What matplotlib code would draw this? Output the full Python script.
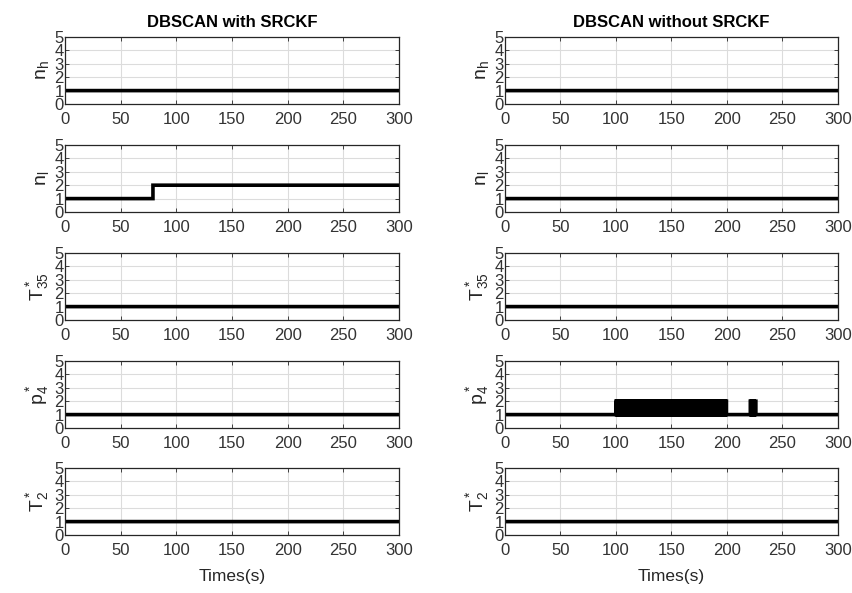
import numpy as np
import matplotlib
matplotlib.use("Agg")
import matplotlib.pyplot as plt

plt.rcParams['font.family'] = ['Liberation Sans', 'DejaVu Sans']
plt.rcParams['mathtext.fontset'] = 'custom'
plt.rcParams['mathtext.rm'] = 'Liberation Sans'
plt.rcParams['mathtext.it'] = 'Liberation Sans'

# time axis (s), 0.5 s sampling
t = np.arange(0, 300.5, 0.5)

titles = ["DBSCAN with SRCKF", "DBSCAN without SRCKF"]
ylabels = [r"$\mathrm{n_h}$", r"$\mathrm{n_l}$", r"$\mathrm{T^*_{35}}$",
           r"$\mathrm{p^*_4}$", r"$\mathrm{T^*_2}$"]
xticks = [0, 50, 100, 150, 200, 250, 300]
yticks = [0, 1, 2, 3, 4, 5]

# left column (with SRCKF): number of clusters per variable
nl_step_time = 79
left_nh = [1] * len(t)
left_nl = [1 if x < nl_step_time else 2 for x in t]
left_T35 = [1] * len(t)
left_p4 = [1] * len(t)
left_T2 = [1] * len(t)

# right column (without SRCKF)
# p4 cluster count from 100 s to 199.5 s, one digit per 0.5 s
p4_band_start = 100
p4_band = ("2121212121212121212121212121212121212121212121212121"
           "2121212121212121212121212121212121212121212121212121"
           "2121212121212121212121212121212121212121212121212121"
           "21212121212121212121212121212121212121212121")
# short burst around 221-225 s
p4_blip_start = 221
p4_blip = "2121212122"
right_p4 = []
for x in t:
    i = int(round((x - p4_band_start) * 2))
    j = int(round((x - p4_blip_start) * 2))
    if 0 <= i < len(p4_band):
        right_p4.append(int(p4_band[i]))
    elif 0 <= j < len(p4_blip):
        right_p4.append(int(p4_blip[j]))
    else:
        right_p4.append(1)
right_nh = [1] * len(t)
right_nl = [1] * len(t)
right_T35 = [1] * len(t)
right_T2 = [1] * len(t)

series = [[left_nh, left_nl, left_T35, left_p4, left_T2],
          [right_nh, right_nl, right_T35, right_p4, right_T2]]

W, H = 853, 593
fig = plt.figure(figsize=(W / 100, H / 100), dpi=100)

col_x = [(65, 399), (505, 838)]
row_y = [(37, 104), (145, 212), (253, 320), (361, 428), (468, 535)]

for c in range(2):
    for r in range(5):
        x0, x1 = col_x[c]
        y0, y1 = row_y[r]
        ax = fig.add_axes([x0 / W, 1 - y1 / H, (x1 - x0) / W, (y1 - y0) / H])
        ax.step(t, series[c][r], where='post', color='black', lw=2.6,
                solid_joinstyle='miter')
        ax.set_xlim(0, 300)
        ax.set_ylim(0, 5)
        ax.set_xticks(xticks)
        ax.set_yticks(yticks)
        ax.grid(True, color='#dcdcdc', lw=0.8)
        ax.set_axisbelow(True)
        ax.tick_params(direction='in', length=3, width=0.6, top=True, right=True,
                       labelsize=12, colors='#262626', labelcolor='#333333')
        ax.tick_params(axis='x', pad=6)
        ax.tick_params(axis='y', pad=1)
        for s in ax.spines.values():
            s.set_color('#262626')
            s.set_linewidth(0.9)
        ax.set_ylabel(ylabels[r], fontsize=14, labelpad=2, color='#262626')
        if r == 0:
            ax.set_title(titles[c], fontsize=12, fontweight='bold', pad=7)
        if r == 4:
            ax.set_xlabel("Times(s)", fontsize=12.5, color='#262626', labelpad=8)

fig.savefig("out.png", dpi=100)
